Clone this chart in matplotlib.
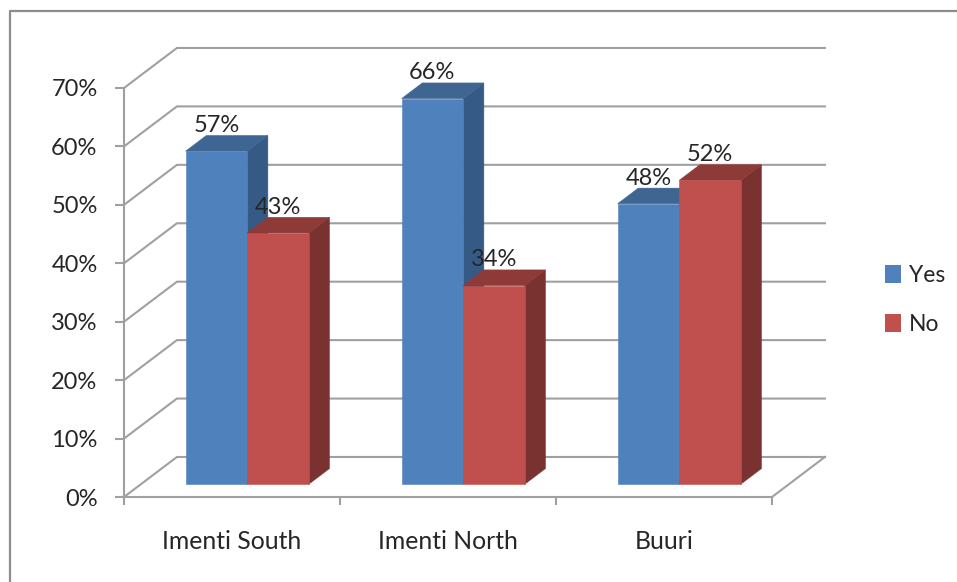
import matplotlib
matplotlib.use('Agg')
import matplotlib.pyplot as plt
from matplotlib.patches import Polygon, Patch

categories = ['Imenti South', 'Imenti North', 'Buuri']
yes_values = [57, 66, 48]
no_values = [43, 34, 52]
y_ticks = [0, 10, 20, 30, 40, 50, 60, 70]

BLUE = ('#4f81bd', '#3f6592', '#355a86')
RED = ('#c0504d', '#8e3a38', '#7a3230')
GRID = '#a0a0a0'

# one unit of depth moves this far along x (categories) and y (percent)
DEPTH_X = 0.245
DEPTH_Y = 6.85
BAR_W = 0.285
BAR_SHIFT = -0.008
D_FRONT = 0.32
D_BACK = 0.71

plt.rcParams['font.family'] = ['Lato', 'DejaVu Sans']


def project(x, y, d):
    return x + DEPTH_X * d, y + DEPTH_Y * d


def draw_bar(ax, left, value, colors, z):
    x0, y0 = project(left, 0, D_FRONT)
    x1, y1 = project(left + BAR_W, value, D_FRONT)
    x2, y2 = project(left + BAR_W, 0, D_BACK)
    x3, y3 = project(left + BAR_W, value, D_BACK)
    x4, y4 = project(left, value, D_BACK)
    front = [(x0, y0), (x1, y0), (x1, y1), (x0, y1)]
    top = [(x0, y1), (x1, y1), (x3, y3), (x4, y4)]
    side = [(x1, y0), (x2, y2), (x3, y3), (x1, y1)]
    for pts, c in zip((side, top, front), (colors[2], colors[1], colors[0])):
        ax.add_patch(Polygon(pts, closed=True, facecolor=c, edgecolor=c, lw=0.4,
                             zorder=z, clip_on=False))
    return (x0 + x1) / 2, y1


fig = plt.figure(figsize=(9.57, 5.82), dpi=100)
ax = fig.add_axes([124 / 957, 85 / 582, 648 / 957, 409 / 582])
ax.set_xlim(0, 3)
ax.set_ylim(0, 70)
ax.patch.set_alpha(0)

# chart frame, open on the right and at the bottom
fig.add_artist(plt.Line2D([10 / 957, 10 / 957, 1], [0, 571 / 582, 571 / 582],
                          color='#8c8c8c', lw=1.6))

# wall and floor lines
for v in y_ticks:
    bx, by = project(3, v, 1)
    sx, sy = project(0, v, 1)
    ax.plot([0, sx, bx], [v, sy, by], color=GRID, lw=1.5, clip_on=False, zorder=1)
fx, fy = project(3, 0, 1)
ax.plot([3, fx], [0, fy], color=GRID, lw=1.5, clip_on=False, zorder=1)

labels = []
for i, name in enumerate(categories):
    c = i + 0.5 + BAR_SHIFT
    labels.append((draw_bar(ax, c - BAR_W, yes_values[i], BLUE, 3), yes_values[i]))
    labels.append((draw_bar(ax, c, no_values[i], RED, 4), no_values[i]))

for (x, y), v in labels:
    ax.annotate(f'{v}%', (x, y), xytext=(0, 18.5), textcoords='offset points',
                ha='center', va='center', fontsize=17, color='#262626', zorder=6,
                annotation_clip=False)

for s in ('top', 'right'):
    ax.spines[s].set_visible(False)
for s in ('left', 'bottom'):
    ax.spines[s].set_color(GRID)
    ax.spines[s].set_linewidth(1.5)

ax.set_yticks(y_ticks)
ax.set_yticklabels([f'{v}%' for v in y_ticks])
ax.set_xticks([0, 1, 2, 3])
ax.set_xticklabels([])
ax.set_xticks([0.5, 1.5, 2.5], minor=True)
ax.set_xticklabels(categories, minor=True)
ax.tick_params(axis='y', direction='out', length=6.5, width=1.5, color=GRID,
               labelsize=17, labelcolor='#262626', pad=12.5)
ax.tick_params(axis='x', which='major', direction='out', length=6, width=1.5, color=GRID)
ax.tick_params(axis='x', which='minor', length=0, labelsize=17.8,
               labelcolor='#262626', pad=23.5)

handles = [Patch(facecolor=BLUE[0], label='Yes'), Patch(facecolor=RED[0], label='No')]
fig.legend(handles=handles, loc='center left', bbox_to_anchor=(880 / 957, 282 / 582),
           frameon=False, fontsize=16.5, handlelength=0.72, handleheight=0.85,
           handletextpad=0.35, labelspacing=1.2, labelcolor='#262626',
           borderpad=0.2, borderaxespad=0)

fig.savefig('out.png', dpi=100)
